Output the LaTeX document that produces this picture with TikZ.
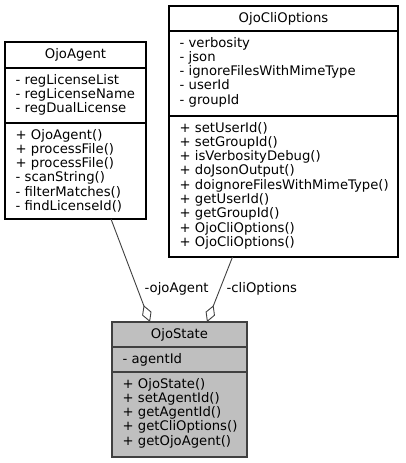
\documentclass[tikz,border=0pt]{standalone}
\usepackage{fontspec}
\setmainfont{DejaVu Sans}
\usetikzlibrary{arrows.meta,calc}
\definecolor{edgegrey}{HTML}{404040}
\definecolor{fillgrey}{HTML}{BFBFBF}
\tikzset{
  classbox/.style={draw=black, line width=1.1pt, anchor=north west, inner sep=0pt, outer sep=0pt},
  mainbox/.style={classbox, draw=edgegrey, fill=fillgrey},
  sepline/.style={line width=1.1pt},
  txt/.style={anchor=base west, inner sep=0pt, font=\fontsize{13.2}{14.3}\selectfont},
  ttl/.style={anchor=base, inner sep=0pt, font=\fontsize{13.2}{14.3}\selectfont},
  assoc/.style={draw=edgegrey, line width=0.9pt, {Diamond[open,length=18pt,width=10pt,line width=0.9pt]}-}
}
\newcommand\classlines[4]{%
  \foreach \t [count=\i] in {#4} {\node[txt] (#1-\i) at (#2, #3+14.3*\i-14.3) {\t};}}
\begin{document}
\begin{tikzpicture}[x=1pt,y=-1pt]
\useasboundingbox (0,0) rectangle (405,463);
% OjoAgent
\node[classbox, minimum width=141pt, minimum height=177pt] (agent) at (5,42) {};
\node[ttl] (agent-t) at ($(agent.north)+(0,16)$) {OjoAgent};
\draw[sepline] (agent.west |- 0,68) -- (agent.east |- 0,68);
\draw[sepline] (agent.west |- 0,123) -- (agent.east |- 0,123);
\classlines{agenta}{15.5}{84}{- regLicenseList,- regLicenseName,- regDualLicense}
\classlines{agentm}{15.5}{139}{+ OjoAgent(),+ processFile(),+ processFile(),- scanString(),- filterMatches(),- findLicenseId()}
% OjoCliOptions
\node[classbox, minimum width=229pt, minimum height=251pt] (cli) at (169,6) {};
\node[ttl] (cli-t) at ($(cli.north)+(0,16)$) {OjoCliOptions};
\draw[sepline] (cli.west |- 0,31) -- (cli.east |- 0,31);
\draw[sepline] (cli.west |- 0,116) -- (cli.east |- 0,116);
\classlines{clia}{179.5}{47}{- verbosity,- json,- ignoreFilesWithMimeType,- userId,- groupId}
\classlines{clim}{179.5}{132}{+ setUserId(),+ setGroupId(),+ isVerbosityDebug(),+ doJsonOutput(),+ doignoreFilesWithMimeType(),+ getUserId(),+ getGroupId(),+ OjoCliOptions(),+ OjoCliOptions()}
% OjoState
\node[mainbox, minimum width=135pt, minimum height=135pt] (state) at (112,322) {};
\node[ttl] (state-t) at ($(state.north)+(0,16)$) {OjoState};
\draw[sepline, draw=edgegrey] (state.west |- 0,347) -- (state.east |- 0,347);
\draw[sepline, draw=edgegrey] (state.west |- 0,372) -- (state.east |- 0,372);
\classlines{statea}{122.5}{363}{- agentId}
\classlines{statem}{122.5}{388}{+ OjoState(),+ setAgentId(),+ getAgentId(),+ getCliOptions(),+ getOjoAgent()}
% connectors
\coordinate (s1) at ($(state.north west)+(38,0)$);
\coordinate (a1) at ($(agent.south west)+(106,0)$);
\coordinate (s2) at ($(state.north west)+(95,0)$);
\coordinate (c1) at ($(cli.south west)+(63.5,0)$);
\draw[assoc] (s1) -- (a1);
\draw[assoc] (s2) -- (c1);
\node[txt] (lab1) at (144.5,292) {-ojoAgent};
\node[txt] (lab2) at (226.5,292) {-cliOptions};
\end{tikzpicture}
\end{document}
